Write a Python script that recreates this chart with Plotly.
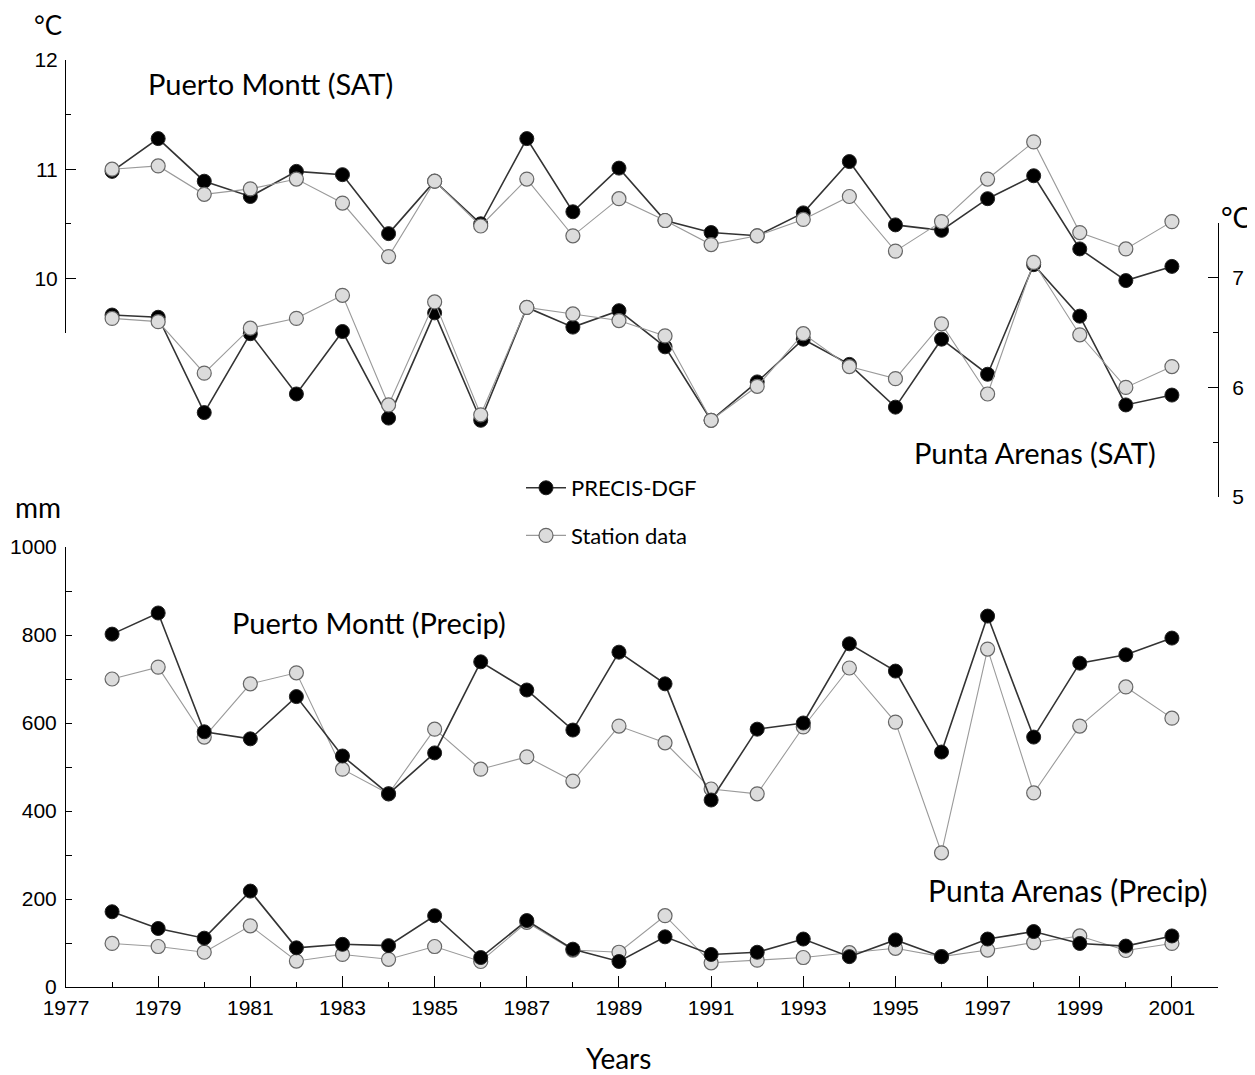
import plotly.graph_objects as go

# ---------------- data ----------------
years = list(range(1978, 2002))

pm_sat_precis = [10.98, 11.28, 10.89, 10.75, 10.98, 10.95, 10.41, 10.89, 10.50, 11.28, 10.61, 11.01,
                 10.53, 10.42, 10.39, 10.60, 11.07, 10.49, 10.44, 10.73, 10.94, 10.27, 9.98, 10.11]
pm_sat_station = [11.00, 11.03, 10.77, 10.82, 10.91, 10.69, 10.20, 10.89, 10.48, 10.91, 10.39, 10.73,
                  10.53, 10.31, 10.39, 10.54, 10.75, 10.25, 10.52, 10.91, 11.25, 10.42, 10.27, 10.52]

pa_sat_precis = [6.66, 6.64, 5.77, 6.49, 5.94, 6.51, 5.72, 6.68, 5.70, 6.73, 6.55, 6.70,
                 6.37, 5.70, 6.05, 6.44, 6.21, 5.82, 6.44, 6.12, 7.12, 6.65, 5.84, 5.93]
pa_sat_station = [6.63, 6.60, 6.13, 6.54, 6.63, 6.84, 5.84, 6.78, 5.75, 6.73, 6.67, 6.61,
                  6.47, 5.70, 6.01, 6.49, 6.19, 6.08, 6.58, 5.94, 7.14, 6.48, 6.00, 6.19]

pm_pr_precis = [802, 850, 580, 564, 660, 525, 439, 532, 739, 675, 584, 761,
                689, 425, 586, 600, 780, 718, 534, 843, 568, 736, 755, 793]
pm_pr_station = [700, 727, 568, 689, 714, 495, 439, 586, 495, 523, 468, 593,
                 555, 450, 439, 591, 725, 602, 305, 768, 441, 593, 682, 611]

pa_pr_precis = [171, 133, 111, 218, 89, 97, 94, 162, 67, 151, 86, 58,
                114, 74, 79, 109, 69, 107, 69, 109, 126, 99, 93, 116]
pa_pr_station = [99, 92, 79, 139, 59, 74, 63, 92, 58, 147, 84, 79,
                 162, 55, 61, 67, 78, 88, 69, 84, 101, 116, 83, 99]

x_ticks = list(range(1977, 2003, 2))
x_ticktext = [str(y) for y in x_ticks]

# ---------------- layout helpers ----------------
# the page body has an 8px margin, so the figure is drawn 8px right/down
OFF = 8
W, H = 1255 - OFF, 1075 - OFF
def px_x(p):
    return (p - OFF) / W
def px_y(p):
    return 1 - (p - OFF) / H

TICK_FONT = dict(family="Liberation Sans, Arial, sans-serif", size=21, color="black")
LABEL_FONT = "Lato, Calibri, sans-serif"

precis_marker = dict(symbol="circle", size=14, color="black", line=dict(color="#222222", width=1))
station_marker = dict(symbol="circle", size=14, color="#dcdcdc", line=dict(color="#666666", width=1.2))
precis_line = dict(color="#333333", width=1.6)
station_line = dict(color="#9a9a9a", width=1.1)

fig = go.Figure()

def add_pair(yp, ys, xaxis, yaxis, legend, station_on_top):
    tp = go.Scatter(x=years, y=yp, mode="lines+markers", xaxis=xaxis, yaxis=yaxis,
                    name="PRECIS-DGF", legendgroup="precis", legendrank=1,
                    showlegend=legend, line=precis_line, marker=precis_marker)
    ts = go.Scatter(x=years, y=ys, mode="lines+markers", xaxis=xaxis, yaxis=yaxis,
                    name="Station data", legendgroup="station", legendrank=2,
                    showlegend=legend, line=station_line, marker=station_marker)
    if station_on_top:
        fig.add_trace(tp); fig.add_trace(ts)
    else:
        fig.add_trace(ts); fig.add_trace(tp)

add_pair(pm_sat_precis, pm_sat_station, "x", "y", True, True)
add_pair(pa_sat_precis, pa_sat_station, "x", "y2", False, True)
add_pair(pm_pr_precis, pm_pr_station, "x2", "y3", False, False)
add_pair(pa_pr_precis, pa_pr_station, "x2", "y3", False, False)

xdom = [px_x(66), px_x(1218)]

fig.update_layout(
    width=W, height=H,
    margin=dict(l=0, r=0, t=0, b=0, pad=0, autoexpand=False),
    paper_bgcolor="white", plot_bgcolor="rgba(0,0,0,0)",
    showlegend=True,
    legend=dict(x=px_x(521), y=px_y(467), xanchor="left", yanchor="top",
                font=dict(family=LABEL_FONT, size=22, color="black"),
                bgcolor="rgba(0,0,0,0)", traceorder="grouped", tracegroupgap=16,
                itemwidth=40),
    xaxis=dict(domain=xdom, range=[1977, 2002], visible=False, anchor="y", automargin=False),
    yaxis=dict(domain=[px_y(333), px_y(60)], range=[9.5, 12], anchor="x", automargin=False,
               tick0=0, dtick=1, ticks="inside", ticklen=10, tickcolor="black",
               showline=True, linecolor="black", linewidth=1, showgrid=False, zeroline=False,
               tickfont=TICK_FONT, ticklabelstandoff=3,
               minor=dict(dtick=0.5, tick0=0, ticks="inside", ticklen=5, tickcolor="black")),
    yaxis2=dict(domain=[px_y(497), px_y(223)], range=[5, 7.5], anchor="free", automargin=False,
                position=px_x(1218), side="right",
                tick0=0, dtick=1, ticks="inside", ticklen=10, tickcolor="black",
                showline=True, linecolor="black", linewidth=1, showgrid=False, zeroline=False,
                tickfont=TICK_FONT, ticklabelstandoff=9,
                minor=dict(dtick=0.5, tick0=0, ticks="inside", ticklen=5, tickcolor="black")),
    xaxis2=dict(domain=xdom, range=[1977, 2002], anchor="y3", automargin=False,
                tickvals=x_ticks, ticktext=x_ticktext,
                ticks="inside", ticklen=11, tickcolor="black",
                showline=True, linecolor="black", linewidth=1.2, showgrid=False, zeroline=False,
                tickfont=TICK_FONT, ticklabelstandoff=2,
                minor=dict(dtick=1, tick0=1977, ticks="inside", ticklen=5, tickcolor="black")),
    yaxis3=dict(domain=[px_y(987), px_y(547)], range=[0, 1000], anchor="x2", automargin=False,
                tick0=0, dtick=200, ticks="inside", ticklen=6, tickcolor="black",
                showline=True, linecolor="black", linewidth=1, showgrid=False, zeroline=False,
                tickfont=TICK_FONT, ticklabelstandoff=4,
                minor=dict(dtick=100, tick0=0, ticks="inside", ticklen=6, tickcolor="black")),
)

def label(text, cx, cy, size=29, xanchor="center"):
    fig.add_annotation(text=text, x=px_x(cx), y=px_y(cy), xref="paper", yref="paper",
                       xanchor=xanchor, yanchor="middle", showarrow=False,
                       font=dict(family=LABEL_FONT, size=size, color="black"))

label("°C", 48, 25, size=26)
label("Puerto Montt (SAT)", 146, 84, xanchor="left")
label("Punta Arenas (SAT)", 1158, 452, xanchor="right")
label("°C", 1236, 217, size=28)
label("mm", 38, 507, size=28)
label("Puerto Montt (Precip)", 230, 622, xanchor="left")
label("Punta Arenas (Precip)", 1210, 890, xanchor="right", size=30)
label("Years", 618, 1058, size=28)

fig.write_html("out.html")
